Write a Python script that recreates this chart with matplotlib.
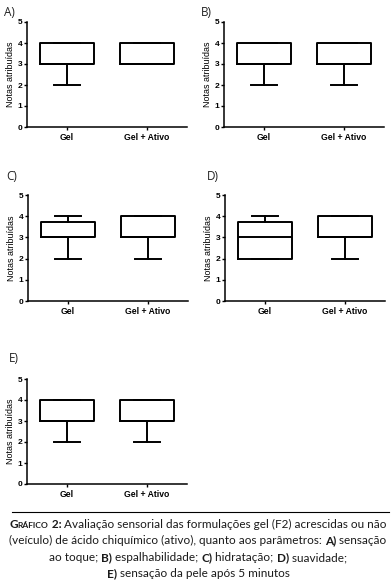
import matplotlib
matplotlib.use("Agg")
import matplotlib.pyplot as plt
from matplotlib.lines import Line2D

# --- data (five-number summaries) ---
groups = ["Gel", "Gel + Ativo"]
panel_labels = ["A)", "B)", "C)", "D)", "E)"]
# each entry: [min, q1, median, q3, max]
gel_stats = [
    [2, 3, 3, 4, 4],
    [2, 3, 3, 4, 4],
    [2, 3, 3, 3.75, 4],
    [2, 2, 3, 3.75, 4],
    [2, 3, 3, 4, 4],
]
ativo_stats = [
    [3, 3, 3, 4, 4],
    [2, 3, 3, 4, 4],
    [2, 3, 3, 4, 4],
    [2, 3, 3, 4, 4],
    [2, 3, 3, 4, 4],
]
y_ticks = [0, 1, 2, 3, 4, 5]

W, H = 392, 582
fig = plt.figure(figsize=(W / 100, H / 100), dpi=100)

# axes boxes in pixels: left, top, bottom
boxes_px = [(27, 22, 127), (224, 22, 127), (28, 195, 301), (225, 195, 301), (27, 379, 484)]
label_px = [(4, 12), (201, 12), (6, 177), (207, 177), (9, 359)]
ax_w = 160

axfont = "Liberation Sans"

def stat_dict(s, name):
    return dict(whislo=s[0], q1=s[1], med=s[2], q3=s[3], whishi=s[4], label=name, fliers=[])

for i in range(5):
    left, top, bot = boxes_px[i]
    ax = fig.add_axes([left / W, 1 - bot / H, ax_w / W, (bot - top) / H])
    stats = [stat_dict(gel_stats[i], groups[0]), stat_dict(ativo_stats[i], groups[1])]
    lw = 1.4
    ax.bxp(stats, positions=[0, 1], widths=0.675, capwidths=0.33, showfliers=False,
           boxprops=dict(color="black", linewidth=lw),
           medianprops=dict(color="black", linewidth=lw),
           whiskerprops=dict(color="black", linewidth=lw),
           capprops=dict(color="black", linewidth=lw))
    ax.set_xlim(-0.5, 1.5)
    ax.set_ylim(0, 5)
    ax.set_yticks(y_ticks)
    ax.set_yticklabels([str(t) for t in y_ticks], fontsize=6, fontweight="bold", family=axfont)
    ax.set_xticks([0, 1])
    ax.set_xticklabels(groups, fontsize=6.2, fontweight="bold", family=axfont)
    ax.tick_params(axis="both", length=2.5, width=1.0)
    ax.tick_params(axis="y", pad=0.8)
    ax.tick_params(axis="x", pad=2)
    for sp in ["top", "right"]:
        ax.spines[sp].set_visible(False)
    for sp in ["left", "bottom"]:
        ax.spines[sp].set_linewidth(1.1)
    ax.set_ylabel("Notas atribuídas", fontsize=6.4, family=axfont, labelpad=2)
    lx, ly = label_px[i]
    fig.text(lx / W, 1 - ly / H, panel_labels[i], fontsize=8.5, family="Open Sans",
             va="center", ha="left", color="#222222")

# separator line above the caption
fig.add_artist(Line2D([12 / W, 389 / W], [1 - 512 / H, 1 - 512 / H], color="black", linewidth=0.8))

# caption, built from pieces so bold and small-caps parts can be mixed
capfont = "Lato"
cs = 8.5
caption_lines = [
    [("G", "bold", cs), ("RÁFICO", "bold", cs * 0.72), (" 2:", "bold", cs),
     (" Avaliação sensorial das formulações gel (F2) acrescidas ou não", "normal", cs)],
    [("(veículo) de ácido chiquímico (ativo), quanto aos parâmetros: ", "normal", cs),
     ("A)", "bold", cs), (" sensação", "normal", cs)],
    [("ao toque; ", "normal", cs), ("B)", "bold", cs), (" espalhabilidade; ", "normal", cs),
     ("C)", "bold", cs), (" hidratação; ", "normal", cs), ("D)", "bold", cs),
     (" suavidade;", "normal", cs)],
    [("E)", "bold", cs), (" sensação da pele após 5 minutos", "normal", cs)],
]
baselines = [528, 544, 561, 577]

renderer = fig.canvas.get_renderer()
for pieces, yy in zip(caption_lines, baselines):
    texts = []
    for s, wgt, size in pieces:
        t = fig.text(0, 1 - yy / H, s.replace(" ", "\u00a0"), fontsize=size, fontweight=wgt,
                     family=capfont, va="baseline", ha="left", color="#1a1a1a")
        texts.append(t)
    widths = [t.get_window_extent(renderer).width for t in texts]
    x = (W - sum(widths)) / 2 + 2
    for t, w in zip(texts, widths):
        t.set_x(x / W)
        x += w

fig.savefig("out.png", dpi=100)
